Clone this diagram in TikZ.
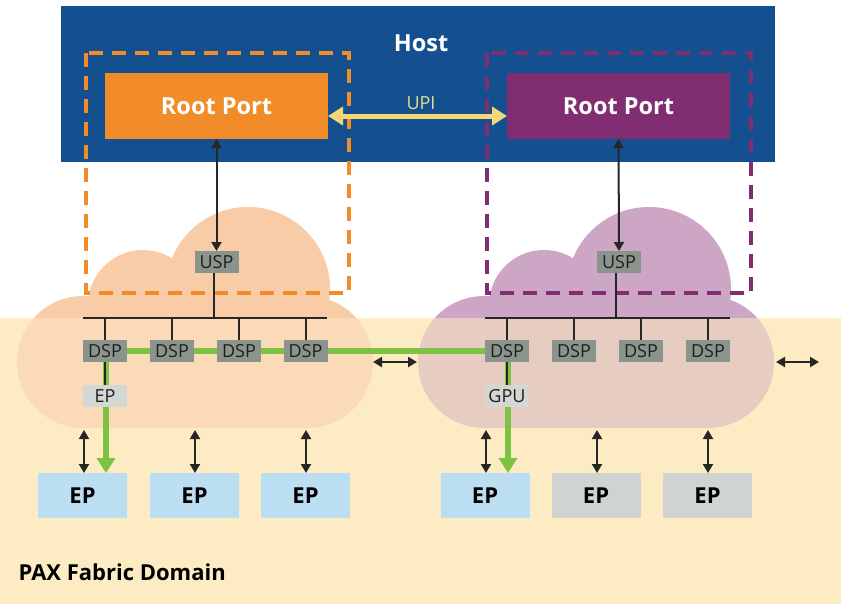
\documentclass[tikz,border=0pt]{standalone}
\usepackage{fontspec}
\setmainfont{Open Sans}
\usetikzlibrary{arrows.meta}
\definecolor{hostblue}{RGB}{20,80,143}
\definecolor{rporange}{RGB}{242,140,40}
\definecolor{rppurple}{RGB}{128,45,114}
\definecolor{upiyellow}{RGB}{245,215,120}
\definecolor{upitext}{RGB}{232,222,140}
\definecolor{portgray}{RGB}{138,148,140}
\definecolor{eplight}{RGB}{212,216,212}
\definecolor{epblue}{RGB}{188,222,243}
\definecolor{epgray}{RGB}{208,212,208}
\definecolor{pathgreen}{RGB}{125,194,66}
\definecolor{cloudLa}{RGB}{249,204,168}
\definecolor{cloudLb}{RGB}{251,219,183}
\definecolor{cloudRa}{RGB}{205,166,197}
\definecolor{cloudRb}{RGB}{230,204,193}
\definecolor{beige}{RGB}{253,236,195}
\definecolor{txtdark}{RGB}{30,30,30}
\begin{document}
\begin{tikzpicture}[x=1pt,y=-1pt,
  plainbox/.style={rectangle,inner sep=0pt,outer sep=0pt},
  rootbox/.style={plainbox,minimum width=223pt,minimum height=66pt,text=white,
     font=\fontsize{23.5}{27}\selectfont\bfseries},
  port/.style={plainbox,fill=portgray,minimum width=44pt,minimum height=22pt,text=txtdark,
     font=\fontsize{18}{20}\selectfont},
  smallep/.style={port,fill=eplight},
  bigep/.style={plainbox,minimum width=89pt,minimum height=45pt,text=black,
     font=\fontsize{22}{26}\selectfont\bfseries},
  dashbox/.style={line width=4pt,dash pattern=on 14pt off 9pt},
  dbl/.style={line width=2pt,black!85,{Triangle[length=9pt,width=10pt]}-{Triangle[length=9pt,width=10pt]}},
  thinline/.style={line width=2pt,black!85},
  greenpath/.style={line width=6.5pt,pathgreen},
  upiarrow/.style={line width=5pt,upiyellow,{Triangle[length=15pt,width=18pt]}-{Triangle[length=15pt,width=18pt]}}
]
% canvas
\fill[white] (0,0) rectangle (841,606);
\useasboundingbox (0,0) rectangle (841,606);

% host
\node[plainbox,fill=hostblue,minimum width=714pt,minimum height=156pt] (host) at (418,84) {};
\node[text=white,font=\fontsize{23.5}{27}\selectfont\bfseries] (hostlabel) at (421,43) {Host};
\node[rootbox,fill=rporange] (rpL) at (216.5,106) {Root Port};
\node[rootbox,fill=rppurple] (rpR) at (618.5,106) {Root Port};

% clouds (upper colour)
\foreach \dx/\cc in {0/cloudLa,401/cloudRa}{
  \begin{scope}[xshift=\dx pt]
    \fill[\cc] (83,362) circle (66pt);
    \fill[\cc] (307,362) circle (66pt);
    \fill[\cc] (83,296) rectangle (307,428);
    \fill[\cc] (248,289) circle (82pt);
    \fill[\cc] (143,305) circle (55pt);
  \end{scope}
}
% fabric domain background
\fill[beige] (0,318) rectangle (841,604);
% clouds (lower colour)
\begin{scope}
  \clip (0,318) rectangle (841,606);
  \foreach \dx/\cc in {0/cloudLb,401/cloudRb}{
    \begin{scope}[xshift=\dx pt]
      \fill[\cc] (83,362) circle (66pt);
      \fill[\cc] (307,362) circle (66pt);
      \fill[\cc] (83,296) rectangle (307,428);
    \end{scope}
  }
\end{scope}

% dashed boxes
\draw[dashbox,rporange] (86,53) rectangle (349,293);
\draw[dashbox,rppurple] (487,53) rectangle (751,293);

% UPI
\draw[upiarrow] ([yshift=-10pt]rpL.east) -- ([yshift=-10pt]rpR.west);
\node[text=upitext,font=\fontsize{18}{20}\selectfont] (upi) at (421,103) {UPI};

% USP
\node[port] (uspL) at (216.5,262) {USP};
\node[port] (uspR) at (619,262) {USP};
\draw[dbl] (rpL.south) -- (uspL.north);
\draw[dbl] (rpR.south) -- (uspR.north);

% buses
\coordinate (busLa) at (83,318);
\coordinate (busLb) at (327,318);
\coordinate (busRa) at (485,318);
\coordinate (busRb) at (730,318);
\draw[thinline] (busLa) -- (busLb);
\draw[thinline] (busRa) -- (busRb);
\draw[thinline] ([xshift=-3pt]uspL.south) -- ([xshift=-3pt]uspL.south |- busLa);
\draw[thinline] ([xshift=-3pt]uspR.south) -- ([xshift=-3pt]uspR.south |- busRa);

% DSP positions
\foreach \i/\x in {1/105,2/172,3/239,4/305.5}{
  \coordinate (pL\i) at (\x,351);
}
\foreach \i/\x in {1/507,2/574,3/641,4/708}{
  \coordinate (pR\i) at (\x,351);
}
\foreach \i in {1,2,3,4}{
  \draw[thinline] (pL\i |- busLa) -- (pL\i);
  \draw[thinline] (pR\i |- busRa) -- (pR\i);
}

% big endpoints
\node[bigep,fill=epblue] (ep1) at (82.5,495.5) {EP};
\node[bigep,fill=epblue] (ep2) at (194.5,495.5) {EP};
\node[bigep,fill=epblue] (ep3) at (305.5,495.5) {EP};
\node[bigep,fill=epblue] (ep4) at (485,495.5) {EP};
\node[bigep,fill=epgray] (ep5) at (596,495.5) {EP};
\node[bigep,fill=epgray] (ep6) at (707.5,495.5) {EP};

% green path
\draw[greenpath] (pL1) -- (pR1);
\draw[greenpath,-{Triangle[length=15pt,width=18pt]}] ([xshift=1pt]pL1) -- ([xshift=1pt]pL1 |- ep1.north);
\draw[greenpath,-{Triangle[length=15pt,width=18pt]}] ([xshift=1pt]pR1) -- ([xshift=1pt]pR1 |- ep4.north);

% small endpoint and GPU
\node[smallep] (epsL) at (105,396) {EP};
\node[smallep] (gpu) at (507,396) {GPU};
\draw[line width=1.6pt,black!85] (pL1) -- (epsL.north);
\draw[line width=1.6pt,black!85] (pR1) -- (gpu.north);

% DSP boxes
\foreach \i in {1,2,3,4}{
  \node[port] (dL\i) at (pL\i) {DSP};
  \node[port] (dR\i) at (pR\i) {DSP};
}

% vertical double arrows
\foreach \i/\x in {1/84,2/195,3/306,4/486,5/597,6/708}{
  \coordinate (c\i) at (\x,430);
  \draw[dbl] (c\i) -- (c\i |- ep\i.north);
}

% horizontal double arrows
\coordinate (hA1) at (373,362);
\coordinate (hA2) at (417,362);
\coordinate (hB1) at (776,362);
\coordinate (hB2) at (819,362);
\draw[dbl] (hA1) -- (hA2);
\draw[dbl] (hB1) -- (hB2);

% domain label
\node[anchor=west,text=black,font=\fontsize{22}{26}\selectfont\bfseries] (pax) at (15,572) {PAX Fabric Domain};
\end{tikzpicture}
\end{document}
